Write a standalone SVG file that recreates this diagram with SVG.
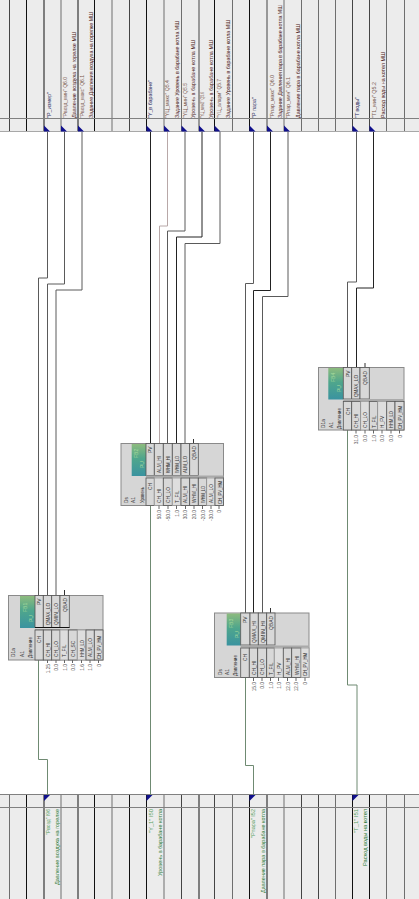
<svg xmlns="http://www.w3.org/2000/svg" width="419" height="899" viewBox="0 0 419 899">
<style>
text{font-family:"Liberation Sans",Arial,sans-serif}
.k{stroke:#111;stroke-width:1;fill:none}
.d{stroke:#444;stroke-width:1;fill:none}
.g{stroke:#6e6e6e;stroke-width:1;fill:none}
.w{stroke:#5a5a5a;stroke-width:1;fill:none}
.wp{stroke:#b8a8a8;stroke-width:1;fill:none}
.wk{stroke:#222;stroke-width:1;fill:none}
.wo{stroke:#6f8a72;stroke-width:1;fill:none}
.hl{stroke:#808080;stroke-width:1;fill:none}
.tag{font-size:5px;fill:#7a5a50}
.tagb{font-size:5px;fill:#2c2c60}
.dsc{font-size:5.2px;fill:#4a2018}
.gt{font-size:5px;fill:#5a9f62}
.gd{font-size:5.2px;fill:#2a7a35}
.p{font-size:4.8px;fill:#333}
.v{font-size:4.8px;fill:#555;text-anchor:end}
.tl{font-size:5px;fill:#a8dc9c}
.body{fill:#d6d6d6;stroke:#8a8a8a;stroke-width:1}
.cell{fill:#d8d8d8;stroke:#555;stroke-width:.8}
.cl{fill:#dedede;stroke:#999;stroke-width:.8}
.bar{stroke:#111;stroke-width:1}
.stub{stroke:#333;stroke-width:1}
.tk{stroke:#666;stroke-width:1}
</style>
<defs>
<linearGradient id="teal" x1="0" y1="0" x2="0" y2="1"><stop offset="0" stop-color="#8dbb7e"/><stop offset=".45" stop-color="#4fa68c"/><stop offset="1" stop-color="#3a93a0"/></linearGradient>
<polygon id="ah" points="0,-6 6,0 0,0" fill="#10108c"/>
<polygon id="ab" points="0,0 6,0 0,6" fill="#10108c"/>
</defs>
<rect width="419" height="899" fill="#fff"/>
<g id="top-band">
<rect x="0" y="0" width="419" height="131.5" fill="#ececec"/>
<path class="d" d="M9.5 0V131"/><path class="k" d="M26.5 0V131"/><path class="k" d="M44 0V131"/><path class="g" d="M61 0V131"/><path class="k" d="M78 0V131"/><path class="k" d="M94.5 0V131"/><path class="g" d="M112 0V131"/><path class="d" d="M129.5 0V131"/><path class="k" d="M146.5 0V131"/><path class="g" d="M164 0V131"/><path class="g" d="M181.5 0V131"/><path class="d" d="M199 0V131"/><path class="k" d="M214.5 0V131"/><path class="g" d="M232.5 0V131"/><path class="k" d="M249.5 0V131"/><path class="d" d="M267 0V131"/><path class="g" d="M284 0V131"/><path class="g" d="M301.5 0V131"/><path class="g" d="M318.5 0V131"/><path class="g" d="M335.5 0V131"/><path class="d" d="M352.5 0V131"/><path class="d" d="M369.5 0V131"/><path class="g" d="M386.5 0V131"/><path class="g" d="M404.5 0V131"/>
<path class="hl" d="M0 118.5H419"/>
<path d="M0 131.5H419" stroke="#a8a8a8" fill="none"/>
</g>
<g id="bottom-band">
<rect x="0" y="795" width="419" height="104" fill="#ececec"/>
<path class="g" d="M9.5 795V899"/><path class="k" d="M26.5 795V899"/><path class="k" d="M44 795V899"/><path class="g" d="M61 795V899"/><path class="k" d="M78 795V899"/><path class="k" d="M94.5 795V899"/><path class="g" d="M112 795V899"/><path class="k" d="M129.5 795V899"/><path class="k" d="M146.5 795V899"/><path class="g" d="M164 795V899"/><path class="d" d="M181.5 795V899"/><path class="k" d="M199 795V899"/><path class="d" d="M214.5 795V899"/><path class="g" d="M232.5 795V899"/><path class="k" d="M249.5 795V899"/><path class="k" d="M267 795V899"/><path class="g" d="M284 795V899"/><path class="d" d="M301.5 795V899"/><path class="d" d="M318.5 795V899"/><path class="g" d="M335.5 795V899"/><path class="k" d="M352.5 795V899"/><path class="k" d="M369.5 795V899"/><path class="g" d="M386.5 795V899"/><path class="g" d="M404.5 795V899"/>
<path class="hl" d="M0 794.5H419"/>
<path class="hl" d="M0 807.5H419"/>
</g>
<g id="connectors">
<path class="w" d="M47.5 132V278H38.5V595"/>
<path class="w" d="M64.5 132V284H47.5V595"/>
<path class="w" d="M82 132V290H56V595"/>
<path class="stub" d="M64.5 590V595"/>
<path class="wk" d="M150.5 132V443"/>
<path class="wp" d="M167.5 132V226H159.5V443"/>
<path class="w" d="M185 132V231H167.5V443"/>
<path class="wk" d="M202 132V237H176.5V443"/>
<path class="w" d="M220 132V243.5H185V443"/>
<path class="stub" d="M193.5 439V443"/>
<path class="w" d="M253.5 132V283.5H245.5V613"/>
<path class="wk" d="M270.5 132V290.5H253.5V613"/>
<path class="w" d="M288 132V296.5H262.5V613"/>
<path class="stub" d="M270.5 608V613"/>
<path class="w" d="M356.5 132V282H347.5V367"/>
<path class="wk" d="M373.5 132V288H356.5V367"/>
<path class="stub" d="M365 363V367"/>
<path class="wo" d="M38.5 660V759.5H47.5V795"/>
<path class="wo" d="M150.5 506V795"/>
<path class="wo" d="M245.5 677V765.5H253.5V795"/>
<path class="wo" d="M347.5 430V685H357V795"/>
<use href="#ah" x="44" y="131.5"/><use href="#ah" x="61" y="131.5"/><use href="#ah" x="78" y="131.5"/><use href="#ah" x="146.5" y="131.5"/><use href="#ah" x="164" y="131.5"/><use href="#ah" x="181.5" y="131.5"/><use href="#ah" x="199" y="131.5"/><use href="#ah" x="214.5" y="131.5"/><use href="#ah" x="249.5" y="131.5"/><use href="#ah" x="267" y="131.5"/><use href="#ah" x="284" y="131.5"/><use href="#ah" x="352.5" y="131.5"/><use href="#ah" x="369.5" y="131.5"/>
<use href="#ab" x="44" y="795"/><use href="#ab" x="146.5" y="795"/><use href="#ab" x="249.5" y="795"/><use href="#ab" x="352.5" y="795"/>
</g>
<g id="labels-top">
<text class="tagb" transform="translate(50.5,118) rotate(-90)" textLength="26" lengthAdjust="spacingAndGlyphs">"P_измер"</text>
<text class="tag" transform="translate(67,118) rotate(-90)" textLength="41" lengthAdjust="spacingAndGlyphs">"Рвозд_мин" Q6.0</text>
<text class="dsc" transform="translate(75.5,118) rotate(-90)" textLength="86" lengthAdjust="spacingAndGlyphs">Давление воздуха на горелке МШ</text>
<text class="tag" transform="translate(83.5,118) rotate(-90)" textLength="43" lengthAdjust="spacingAndGlyphs">"Рвозд_макс" Q6.1</text>
<text class="dsc" transform="translate(92.5,118) rotate(-90)" textLength="106" lengthAdjust="spacingAndGlyphs">Задание Давления воздуха на горелке МШ</text>
<text class="tagb" transform="translate(152,118) rotate(-90)" textLength="38" lengthAdjust="spacingAndGlyphs">"Y_в барабане"</text>
<text class="tag" transform="translate(169,118) rotate(-90)" textLength="38" lengthAdjust="spacingAndGlyphs">"YЦ_макс" Q5.4</text>
<text class="dsc" transform="translate(179,118) rotate(-90)" textLength="97" lengthAdjust="spacingAndGlyphs">Задание Уровень в барабане котла МШ</text>
<text class="tag" transform="translate(187,118) rotate(-90)" textLength="35" lengthAdjust="spacingAndGlyphs">"YЦ_мин" Q5.5</text>
<text class="dsc" transform="translate(195,118) rotate(-90)" textLength="78" lengthAdjust="spacingAndGlyphs">Уровень в барабане котла МШ</text>
<text class="tag" transform="translate(204,118) rotate(-90)" textLength="26" lengthAdjust="spacingAndGlyphs">"YЦ_мин2" Q5.6</text>
<text class="dsc" transform="translate(213,118) rotate(-90)" textLength="78" lengthAdjust="spacingAndGlyphs">Уровень в барабане котла МШ</text>
<text class="tag" transform="translate(220.5,118) rotate(-90)" textLength="39" lengthAdjust="spacingAndGlyphs">"YЦ_аларм" Q5.7</text>
<text class="dsc" transform="translate(230,118) rotate(-90)" textLength="98" lengthAdjust="spacingAndGlyphs">Задание Уровень в барабане котла МШ</text>
<text class="tagb" transform="translate(256,118) rotate(-90)" textLength="21" lengthAdjust="spacingAndGlyphs">"P пара"</text>
<text class="tag" transform="translate(273.5,118) rotate(-90)" textLength="43" lengthAdjust="spacingAndGlyphs">"Рпар_макс" Q6.0</text>
<text class="dsc" transform="translate(282,118) rotate(-90)" textLength="113" lengthAdjust="spacingAndGlyphs">Задание Давления пара в барабане котла МШ</text>
<text class="tag" transform="translate(290,118) rotate(-90)" textLength="41" lengthAdjust="spacingAndGlyphs">"Рпар_мин" Q6.1</text>
<text class="dsc" transform="translate(299.5,118) rotate(-90)" textLength="94" lengthAdjust="spacingAndGlyphs">Давление пара в барабане котла МШ</text>
<text class="tagb" transform="translate(358.5,118) rotate(-90)" textLength="21" lengthAdjust="spacingAndGlyphs">"T воды"</text>
<text class="tag" transform="translate(376,118) rotate(-90)" textLength="36" lengthAdjust="spacingAndGlyphs">"T1_мин" Q5.2</text>
<text class="dsc" transform="translate(384.5,118) rotate(-90)" textLength="66" lengthAdjust="spacingAndGlyphs">Расход воды на котел МШ</text>
</g>
<g id="labels-bottom">
<text class="gt" transform="translate(49.5,835) rotate(-90)" textLength="26" lengthAdjust="spacingAndGlyphs">"Рвозд" I96</text>
<text class="gd" transform="translate(58.5,885) rotate(-90)" textLength="76" lengthAdjust="spacingAndGlyphs">Давление воздуха на горелке</text>
<text class="gt" transform="translate(152.5,833) rotate(-90)" textLength="24" lengthAdjust="spacingAndGlyphs">"Y_1" I50</text>
<text class="gd" transform="translate(162,876) rotate(-90)" textLength="67" lengthAdjust="spacingAndGlyphs">Уровень в барабане котла</text>
<text class="gt" transform="translate(255,838) rotate(-90)" textLength="29" lengthAdjust="spacingAndGlyphs">"Рпара" I52</text>
<text class="gd" transform="translate(264.5,893) rotate(-90)" textLength="84" lengthAdjust="spacingAndGlyphs">Давление пара в барабане котла</text>
<text class="gt" transform="translate(357.5,833) rotate(-90)" textLength="24" lengthAdjust="spacingAndGlyphs">"T_1" I51</text>
<text class="gd" transform="translate(367,866) rotate(-90)" textLength="57" lengthAdjust="spacingAndGlyphs">Расход воды на котел</text>
</g>
<g id="node-1">
<rect class="body" x="8.5" y="595.5" width="94.5" height="64.5"/>
<rect x="20" y="596" width="15" height="32" fill="url(#teal)"/>
<text class="tl" transform="translate(27,612) rotate(-90)">FB1</text><text class="tl" transform="translate(33,622) rotate(-90)">PU</text>
<rect class="cell" x="35" y="595.5" width="8.3" height="32"/><rect class="cell" x="43.3" y="595.5" width="8.4" height="32"/><rect class="cell" x="51.7" y="595.5" width="8.3" height="32"/><rect class="cell" x="60" y="595.5" width="9.3" height="32"/>
<path class="bar" d="M35 627.5H69.5"/><path class="hl" d="M35 630H103"/>
<rect class="cell" x="35" y="630" width="8.3" height="30"/><rect class="cell" x="43.3" y="630" width="8.4" height="30"/><rect class="cell" x="51.7" y="630" width="8.3" height="30"/><rect class="cl" x="60" y="630" width="8.3" height="30"/><rect class="cell" x="68.3" y="630" width="9" height="30"/><rect class="cl" x="77.3" y="630" width="8.7" height="30"/><rect class="cell" x="86" y="630" width="8.3" height="30"/><rect class="cell" x="94.3" y="630" width="8.7" height="30"/>
<text class="p" transform="translate(15,657) rotate(-90)">D1a</text><text class="p" transform="translate(23.5,657) rotate(-90)">A1</text><text class="p" transform="translate(32,658) rotate(-90)" textLength="21" lengthAdjust="spacingAndGlyphs">Давление</text>
<text class="p" transform="translate(41,605) rotate(-90)">PV</text><text class="p" transform="translate(49.5,625) rotate(-90)" textLength="22" lengthAdjust="spacingAndGlyphs">QMAX_LO</text><text class="p" transform="translate(58,625) rotate(-90)" textLength="22" lengthAdjust="spacingAndGlyphs">QMIN_LO</text><text class="p" transform="translate(66.5,612) rotate(-90)" textLength="14" lengthAdjust="spacingAndGlyphs">QBAD</text>
<text class="p" transform="translate(41,643) rotate(-90)">CH</text><text class="p" transform="translate(49.5,657) rotate(-90)">CH_HI</text><text class="p" transform="translate(58,657) rotate(-90)">CH_LO</text><text class="p" transform="translate(66,657) rotate(-90)">T_FIL</text><text class="p" transform="translate(75,657) rotate(-90)">CH_SC</text><text class="p" transform="translate(84,657) rotate(-90)" textLength="17" lengthAdjust="spacingAndGlyphs">HHM_LO</text><text class="p" transform="translate(92,657) rotate(-90)">ALM_LO</text><text class="p" transform="translate(100.5,659) rotate(-90)" textLength="23" lengthAdjust="spacingAndGlyphs">CH_PV_HM</text>
<path class="tk" d="M47.5 660V663M56 660V663M64.5 660V663M72.5 660V663M81.5 660V663M90 660V663M98.5 660V663"/>
<text class="v" transform="translate(49.5,664) rotate(-90)">1.25</text><text class="v" transform="translate(58,664) rotate(-90)">0.0</text><text class="v" transform="translate(66.5,664) rotate(-90)">1.0</text><text class="v" transform="translate(74.5,664) rotate(-90)">0.0</text><text class="v" transform="translate(83.5,664) rotate(-90)">1.6</text><text class="v" transform="translate(92,664) rotate(-90)">1.0</text><text class="v" transform="translate(100.5,664) rotate(-90)">0</text>
</g>
<g id="node-2">
<rect class="body" x="121" y="443.5" width="102.5" height="62"/>
<rect x="131.7" y="444" width="14.3" height="32" fill="url(#teal)"/>
<text class="tl" transform="translate(138,458) rotate(-90)">FB2</text><text class="tl" transform="translate(144,468) rotate(-90)">PU</text>
<rect class="cell" x="146" y="443.5" width="8.3" height="32"/><rect class="cell" x="154.3" y="443.5" width="9" height="32"/><rect class="cell" x="163.3" y="443.5" width="9" height="32"/><rect class="cell" x="172.3" y="443.5" width="8.7" height="32"/><rect class="cell" x="181" y="443.5" width="8.7" height="32"/><rect class="cell" x="189.7" y="443.5" width="8.6" height="32"/>
<path d="M146 476.5H223.5" stroke="#aaa" stroke-width="2"/>
<rect class="cell" x="146" y="478" width="8.3" height="27.5"/><rect class="cl" x="154.3" y="478" width="9" height="27.5"/><rect class="cell" x="163.3" y="478" width="9" height="27.5"/><rect class="cl" x="172.3" y="478" width="8.7" height="27.5"/><rect class="cell" x="181" y="478" width="8.7" height="27.5"/><rect class="cell" x="189.7" y="478" width="8.6" height="27.5"/><rect class="cell" x="198.3" y="478" width="8.4" height="27.5"/><rect class="cl" x="206.7" y="478" width="8.3" height="27.5"/><rect class="cell" x="215" y="478" width="8.5" height="27.5"/>
<text class="p" transform="translate(128,503) rotate(-90)">Ds</text><text class="p" transform="translate(135,503) rotate(-90)">A1</text><text class="p" transform="translate(143.5,503) rotate(-90)" textLength="16" lengthAdjust="spacingAndGlyphs">Уровень</text>
<text class="p" transform="translate(152,453) rotate(-90)">PV</text><text class="p" transform="translate(160.5,473) rotate(-90)" textLength="17" lengthAdjust="spacingAndGlyphs">ALM_HI</text><text class="p" transform="translate(169.5,473) rotate(-90)" textLength="17" lengthAdjust="spacingAndGlyphs">WHM_HI</text><text class="p" transform="translate(178.5,473) rotate(-90)" textLength="17" lengthAdjust="spacingAndGlyphs">WHM_LO</text><text class="p" transform="translate(187,473) rotate(-90)" textLength="17" lengthAdjust="spacingAndGlyphs">ALM_LO</text><text class="p" transform="translate(196,460) rotate(-90)" textLength="14" lengthAdjust="spacingAndGlyphs">QBAD</text>
<text class="p" transform="translate(152,490) rotate(-90)">CH</text><text class="p" transform="translate(160.5,503) rotate(-90)">CH_HI</text><text class="p" transform="translate(169.5,503) rotate(-90)">CH_LO</text><text class="p" transform="translate(178.5,503) rotate(-90)">T_FIL</text><text class="p" transform="translate(187,503) rotate(-90)">ALM_HI</text><text class="p" transform="translate(196,503) rotate(-90)">WHM_HI</text><text class="p" transform="translate(204.5,503) rotate(-90)" textLength="17" lengthAdjust="spacingAndGlyphs">WHM_LO</text><text class="p" transform="translate(213,503) rotate(-90)">ALM_LO</text><text class="p" transform="translate(221.5,504) rotate(-90)" textLength="23" lengthAdjust="spacingAndGlyphs">CH_PV_HM</text>
<path class="tk" d="M159 505.5V509M168 505.5V509M176.5 505.5V509M185.5 505.5V509M194 505.5V509M202.5 505.5V509M211 505.5V509M219 505.5V509"/>
<text class="v" transform="translate(160.5,510) rotate(-90)">50.0</text><text class="v" transform="translate(169.5,510) rotate(-90)">-50.0</text><text class="v" transform="translate(178.5,510) rotate(-90)">1.0</text><text class="v" transform="translate(187,510) rotate(-90)">30.0</text><text class="v" transform="translate(196,510) rotate(-90)">20.0</text><text class="v" transform="translate(204.5,510) rotate(-90)">-20.0</text><text class="v" transform="translate(213,510) rotate(-90)">-30.0</text><text class="v" transform="translate(221,510) rotate(-90)">0</text>
</g>
<g id="node-3">
<rect class="body" x="214.5" y="613" width="94.5" height="64.5"/>
<rect x="226.7" y="613.5" width="14" height="32" fill="url(#teal)"/>
<text class="tl" transform="translate(233,628) rotate(-90)">FB3</text><text class="tl" transform="translate(239,638) rotate(-90)">PU</text>
<rect class="cell" x="240.7" y="613" width="9.3" height="32"/><rect class="cell" x="250" y="613" width="8.3" height="32"/><rect class="cell" x="258.3" y="613" width="8.4" height="32"/><rect class="cell" x="266.7" y="613" width="8.3" height="32"/>
<path d="M240.7 646.5H309" stroke="#aaa" stroke-width="2"/>
<rect class="cell" x="240.7" y="648" width="8.6" height="29.5"/><rect class="cell" x="249.3" y="648" width="8.4" height="29.5"/><rect class="cell" x="257.7" y="648" width="9" height="29.5"/><rect class="cell" x="266.7" y="648" width="7.6" height="29.5"/><rect class="cl" x="274.3" y="648" width="9" height="29.5"/><rect class="cell" x="283.3" y="648" width="8.4" height="29.5"/><rect class="cell" x="291.7" y="648" width="9.3" height="29.5"/><rect class="cl" x="301" y="648" width="8" height="29.5"/>
<text class="p" transform="translate(222,675) rotate(-90)">Ds</text><text class="p" transform="translate(228.5,675) rotate(-90)">A1</text><text class="p" transform="translate(237,676) rotate(-90)" textLength="21" lengthAdjust="spacingAndGlyphs">Давление</text>
<text class="p" transform="translate(247,623) rotate(-90)">PV</text><text class="p" transform="translate(256,643) rotate(-90)" textLength="22" lengthAdjust="spacingAndGlyphs">QMAX_HI</text><text class="p" transform="translate(264.5,643) rotate(-90)" textLength="22" lengthAdjust="spacingAndGlyphs">QMIN_HI</text><text class="p" transform="translate(273,630) rotate(-90)" textLength="14" lengthAdjust="spacingAndGlyphs">QBAD</text>
<text class="p" transform="translate(247,661) rotate(-90)">CH</text><text class="p" transform="translate(255.5,675) rotate(-90)">CH_HI</text><text class="p" transform="translate(264,675) rotate(-90)">CH_LO</text><text class="p" transform="translate(272.5,675) rotate(-90)">T_FIL</text><text class="p" transform="translate(281,675) rotate(-90)">H_PV</text><text class="p" transform="translate(289.5,675) rotate(-90)">ALM_HI</text><text class="p" transform="translate(298.5,675) rotate(-90)">WHM_HI</text><text class="p" transform="translate(307,676) rotate(-90)" textLength="23" lengthAdjust="spacingAndGlyphs">CH_PV_HM</text>
<path class="tk" d="M253.5 677.5V681M262 677.5V681M270.5 677.5V681M278.5 677.5V681M287.5 677.5V681M296 677.5V681M305 677.5V681"/>
<text class="v" transform="translate(255.5,682) rotate(-90)">15.0</text><text class="v" transform="translate(264,682) rotate(-90)">0.0</text><text class="v" transform="translate(272.5,682) rotate(-90)">1.0</text><text class="v" transform="translate(280.5,682) rotate(-90)">1.0</text><text class="v" transform="translate(289.5,682) rotate(-90)">12.0</text><text class="v" transform="translate(298,682) rotate(-90)">12.0</text><text class="v" transform="translate(307,682) rotate(-90)">0</text>
</g>
<g id="node-4">
<rect class="body" x="318.5" y="367.5" width="85.5" height="62.5"/>
<rect x="328.3" y="368" width="15" height="31.5" fill="url(#teal)"/>
<text class="tl" transform="translate(335,382) rotate(-90)">FB4</text><text class="tl" transform="translate(341,392) rotate(-90)">PU</text>
<rect class="cell" x="343.3" y="367.5" width="8.4" height="31.5"/><rect class="cell" x="351.7" y="367.5" width="8.3" height="31.5"/><rect class="cell" x="360" y="367.5" width="9.3" height="31.5"/>
<path d="M343.3 400H404" stroke="#aaa" stroke-width="2"/>
<rect class="cell" x="343.3" y="401.5" width="8.4" height="28.5"/><rect class="cell" x="351.7" y="401.5" width="9" height="28.5"/><rect class="cl" x="360.7" y="401.5" width="8.6" height="28.5"/><rect class="cell" x="369.3" y="401.5" width="8.4" height="28.5"/><rect class="cl" x="377.7" y="401.5" width="9" height="28.5"/><rect class="cell" x="386.7" y="401.5" width="8.3" height="28.5"/><rect class="cell" x="395" y="401.5" width="9" height="28.5"/>
<text class="p" transform="translate(325,428) rotate(-90)">D1a</text><text class="p" transform="translate(332.5,428) rotate(-90)">A1</text><text class="p" transform="translate(341,429) rotate(-90)" textLength="21" lengthAdjust="spacingAndGlyphs">Давление</text>
<text class="p" transform="translate(349.5,377) rotate(-90)">PV</text><text class="p" transform="translate(358,397) rotate(-90)" textLength="22" lengthAdjust="spacingAndGlyphs">QMAX_LO</text><text class="p" transform="translate(367,385) rotate(-90)" textLength="14" lengthAdjust="spacingAndGlyphs">QBAD</text>
<text class="p" transform="translate(349.5,415) rotate(-90)">CH</text><text class="p" transform="translate(358,428) rotate(-90)">CH_HI</text><text class="p" transform="translate(367,428) rotate(-90)">CH_LO</text><text class="p" transform="translate(375.5,428) rotate(-90)">T_FIL</text><text class="p" transform="translate(384,428) rotate(-90)">H_FV</text><text class="p" transform="translate(393,428) rotate(-90)" textLength="17" lengthAdjust="spacingAndGlyphs">HHM_LO</text><text class="p" transform="translate(401.5,429) rotate(-90)" textLength="23" lengthAdjust="spacingAndGlyphs">CH_PV_HM</text>
<path class="tk" d="M356 430V433.5M365 430V433.5M373.5 430V433.5M382 430V433.5M391 430V433.5M399.5 430V433.5"/>
<text class="v" transform="translate(358,435) rotate(-90)">31.0</text><text class="v" transform="translate(367,435) rotate(-90)">0.0</text><text class="v" transform="translate(375.5,435) rotate(-90)">1.0</text><text class="v" transform="translate(384,435) rotate(-90)">0.0</text><text class="v" transform="translate(393,435) rotate(-90)">0.0</text><text class="v" transform="translate(401.5,435) rotate(-90)">0</text>
</g>
</svg>
